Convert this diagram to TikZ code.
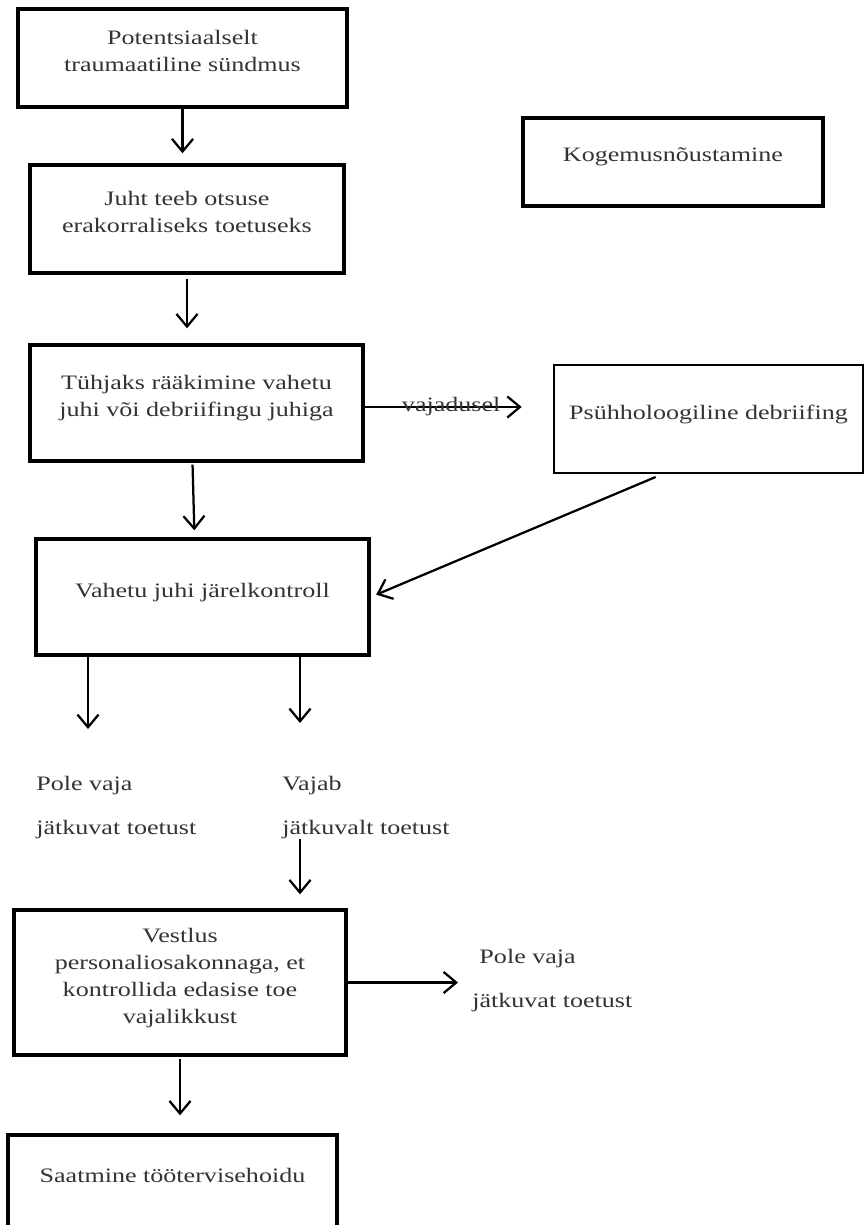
\documentclass[tikz,border=0pt]{standalone}
\usepackage{fontspec}
\setmainfont{Liberation Serif}[FakeStretch=1.27]
\usepackage{tikz}
\usetikzlibrary{arrows.meta,calc}

\begin{document}
\begin{tikzpicture}[
  font=\fontsize{14.6}{19.2}\selectfont,
  >={Straight Barb[length=9pt,width=15pt]},
  box/.style={draw, line width=2.4pt, align=center, inner sep=2pt, text depth=0.35cm, text=black!80},
  thinbox/.style={draw, line width=1.8pt, align=center, inner sep=2pt, text depth=0.35cm, text=black!80},
  note/.style={align=left, inner sep=0pt, anchor=north west, text=black!80},
  flow_arr/.style={->, line width=1.6pt}
]
  \useasboundingbox (0,0) rectangle (21.625,-30.625);

  % Main column
  \node[box, minimum width=8.225cm, minimum height=2.45cm] (event) at (4.5625,-1.45) {Potentsiaalselt\\traumaatiline sündmus};
  \node[box, minimum width=7.85cm, minimum height=2.7cm] (decision) at (4.675,-5.475) {Juht teeb otsuse\\erakorraliseks toetuseks};
  \node[box, minimum width=8.325cm, minimum height=2.9cm] (talk) at (4.9125,-10.075) {Tühjaks rääkimine vahetu\\juhi või debriifingu juhiga};
  \node[box, minimum width=8.325cm, minimum height=2.9cm] (followup) at (5.0625,-14.925) {Vahetu juhi järelkontroll};
  \node[box, minimum width=8.3cm, minimum height=3.625cm] (hrtalk) at (4.5,-24.5625) {Vestlus\\personaliosakonnaga, et\\kontrollida edasise toe\\vajalikkust};
  \node[box, minimum width=8.225cm, minimum height=2.375cm] (referral) at (4.3125,-29.5625) {Saatmine töötervisehoidu};

  % Right side
  \node[box, minimum width=7.5cm, minimum height=2.2cm] (counsel) at (16.825,-4.05) {Kogemusnõustamine};
  \node[thinbox, minimum width=7.725cm, minimum height=2.7cm] (debrief) at (17.7125,-10.475) {Psühholoogiline debriifing};

  % Outcomes
  \node[note] (noneed) at (0.9,-19.4) {Pole vaja\\[12pt]jätkuvat toetust};
  \node[note] (needs) at (7.05,-19.4) {Vajab\\[12pt]jätkuvalt toetust};
  \node[note] (noneedb) at (11.8,-23.725) {\hspace*{0.18cm}Pole vaja\\[12pt]jätkuvat toetust};
  \coordinate (tipa) at (2.2,-18.225);
  \coordinate (tipb) at (7.5,-18.075);

  % Arrows
  \draw[flow_arr, shorten >=0.25cm] (event.south) -- (event.south |- decision.north);
  \draw[flow_arr, shorten <=0.1cm, shorten >=0.375cm] (decision.south) -- (decision.south |- talk.north);
  \draw[flow_arr, shorten <=0.05cm, shorten >=0.175cm] ($(talk.south)+(-0.1,0)$) -- ($(followup.north)+(-0.2,0)$);
  \draw[flow_arr, shorten >=0.775cm] ($(talk.east)+(0,-0.1)$) -- ($(talk.east -| debrief.west)+(0,-0.1)$) node[pos=0.46, inner sep=0pt, text=black!80] {vajadusel};
  \draw[flow_arr, shorten <=0.175cm, shorten >=0.15cm] (debrief.230) -- (followup.east);
  \draw[flow_arr] (followup.south -| tipa) -- (tipa);
  \draw[flow_arr] (followup.south -| tipb) -- (tipb);
  \draw[flow_arr, shorten >=0.35cm] (needs.south -| tipb) -- (hrtalk.north -| tipb);
  \draw[flow_arr, shorten >=0.35cm] (hrtalk.east) -- (hrtalk.east -| noneedb.west);
  \draw[flow_arr, shorten <=0.05cm, shorten >=0.45cm] (hrtalk.south) -- (hrtalk.south |- referral.north);
\end{tikzpicture}
\end{document}
